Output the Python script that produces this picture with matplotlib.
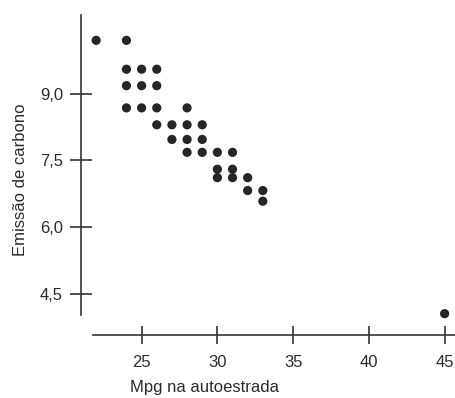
import matplotlib.pyplot as plt

plt.rcParams['font.family'] = ['Liberation Sans', 'DejaVu Sans']

# highway mpg vs carbon emission (tons)
mpg = [22, 24,
       24, 25, 26,
       24, 25, 26,
       24, 25, 26, 28,
       26, 27, 28, 29,
       27, 28, 29,
       28, 29, 30, 31,
       30, 31,
       30, 31, 32,
       32, 33,
       33,
       45]
emission = [10.2, 10.2,
            9.55, 9.55, 9.55,
            9.18, 9.18, 9.18,
            8.68, 8.68, 8.68, 8.68,
            8.3, 8.3, 8.3, 8.3,
            7.97, 7.97, 7.97,
            7.68, 7.68, 7.68, 7.68,
            7.3, 7.3,
            7.11, 7.11, 7.11,
            6.82, 6.82,
            6.58,
            4.05]

xticks = [25, 30, 35, 40, 45]
yticks = [4.5, 6.0, 7.5, 9.0]
ytick_labels = ['4,5', '6,0', '7,5', '9,0']

fig = plt.figure(figsize=(4.56, 3.98), dpi=100)
ax = fig.add_axes([81 / 456, 1 - 335 / 398, 375 / 456, 320 / 398])

ax.scatter(mpg, emission, s=44, color='#262626', edgecolors='none', zorder=3)

ax.set_xlim(21.0, 45.75)
ax.set_ylim(3.57, 10.77)

for side in ['top', 'right']:
    ax.spines[side].set_visible(False)
for side in ['left', 'bottom']:
    ax.spines[side].set_color('#333333')
    ax.spines[side].set_linewidth(1.2)
ax.spines['left'].set_bounds(4.02, 10.77)
ax.spines['bottom'].set_bounds(21.8, 45.75)

ax.set_xticks(xticks)
ax.set_yticks(yticks)
ax.set_yticklabels(ytick_labels)
ax.tick_params(axis='both', direction='inout', color='#333333', width=1.2,
               labelsize=12, labelcolor='#2b2b2b')
ax.tick_params(axis='x', length=13, pad=8)
ax.tick_params(axis='y', length=16, pad=5)

ax.set_xlabel('Mpg na autoestrada', fontsize=12, color='#2b2b2b')
ax.xaxis.set_label_coords(0.33, -0.14)
ax.set_ylabel('Emissão de carbono', fontsize=12, color='#2b2b2b')
ax.yaxis.set_label_coords(-0.14, 0.484)

fig.savefig('out.png', dpi=100)
